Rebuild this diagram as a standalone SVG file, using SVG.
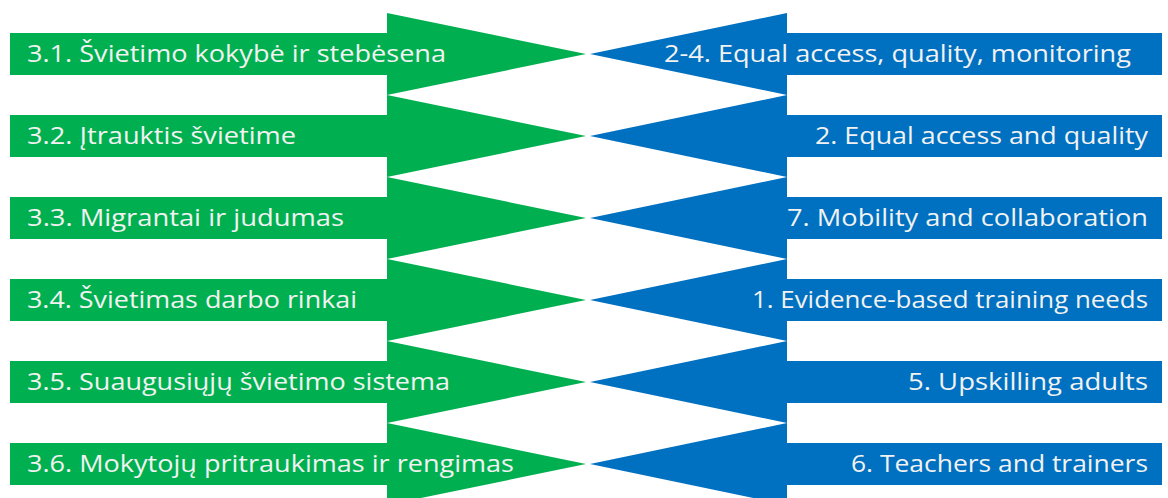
<svg xmlns="http://www.w3.org/2000/svg" width="1168" height="498" viewBox="0 0 1168 498">
<style>
.g{fill:#00B050}
.b{fill:#0070C0}
.t{font-family:"Open Sans","Noto Sans","Liberation Sans",sans-serif;font-size:24.5px;fill:#F2F2F2}
</style>
<defs>
<path id="ga" d="M10,-21 H387 V-41 L586,0 L387,41 V21 H10 Z"/>
<path id="ba" d="M1162,-21 H787 V-41 L590,0 L787,41 V21 H1162 Z"/>
</defs>
<g id="left-1" transform="translate(0,54)"><use href="#ga" class="g"/><text class="t" x="27" y="8" textLength="419" lengthAdjust="spacingAndGlyphs">3.1. Švietimo kokybė ir stebėsena</text></g>
<g id="left-2" transform="translate(0,136)"><use href="#ga" class="g"/><text class="t" x="27" y="8" textLength="269" lengthAdjust="spacingAndGlyphs">3.2. Įtrauktis švietime</text></g>
<g id="left-3" transform="translate(0,218)"><use href="#ga" class="g"/><text class="t" x="27" y="8" textLength="317" lengthAdjust="spacingAndGlyphs">3.3. Migrantai ir judumas</text></g>
<g id="left-4" transform="translate(0,300)"><use href="#ga" class="g"/><text class="t" x="27" y="8" textLength="330" lengthAdjust="spacingAndGlyphs">3.4. Švietimas darbo rinkai</text></g>
<g id="left-5" transform="translate(0,382)"><use href="#ga" class="g"/><text class="t" x="27" y="8" textLength="423" lengthAdjust="spacingAndGlyphs">3.5. Suaugusiųjų švietimo sistema</text></g>
<g id="left-6" transform="translate(0,464)"><use href="#ga" class="g"/><text class="t" x="27" y="8" textLength="487" lengthAdjust="spacingAndGlyphs">3.6. Mokytojų pritraukimas ir rengimas</text></g>
<g id="right-1" transform="translate(0,54)"><use href="#ba" class="b"/><text class="t" x="664" y="8" textLength="467" lengthAdjust="spacingAndGlyphs">2-4. Equal access, quality, monitoring</text></g>
<g id="right-2" transform="translate(0,136)"><use href="#ba" class="b"/><text class="t" x="815" y="8" textLength="333" lengthAdjust="spacingAndGlyphs">2. Equal access and quality</text></g>
<g id="right-3" transform="translate(0,218)"><use href="#ba" class="b"/><text class="t" x="787" y="8" textLength="361" lengthAdjust="spacingAndGlyphs">7. Mobility and collaboration</text></g>
<g id="right-4" transform="translate(0,300)"><use href="#ba" class="b"/><text class="t" x="752" y="8" textLength="396" lengthAdjust="spacingAndGlyphs">1. Evidence-based training needs</text></g>
<g id="right-5" transform="translate(0,382)"><use href="#ba" class="b"/><text class="t" x="908" y="8" textLength="240" lengthAdjust="spacingAndGlyphs">5. Upskilling adults</text></g>
<g id="right-6" transform="translate(0,464)"><use href="#ba" class="b"/><text class="t" x="851" y="8" textLength="297" lengthAdjust="spacingAndGlyphs">6. Teachers and trainers</text></g>
<g id="connectors"></g>
</svg>
